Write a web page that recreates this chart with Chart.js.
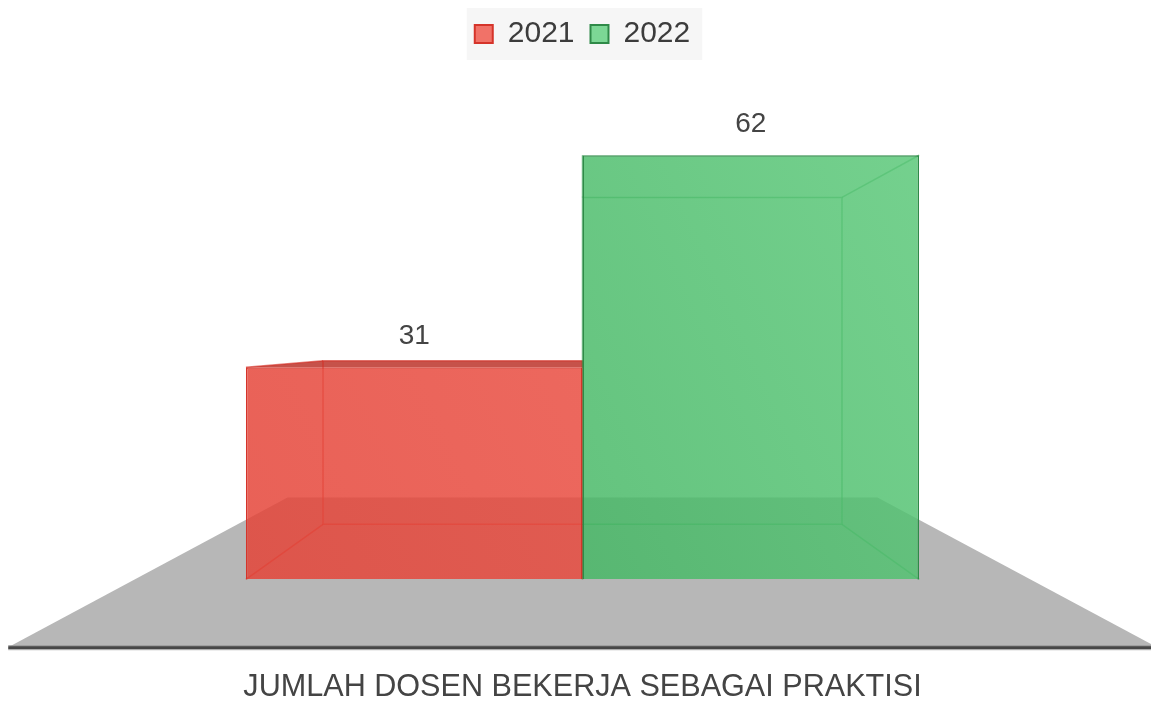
<!DOCTYPE html>
<html>
<head>
<meta charset="utf-8">
<script src="https://cdn.jsdelivr.net/npm/chart.js@4.4.1/dist/chart.umd.min.js"></script>
<style>
    html, body { margin: 0; padding: 0; background: #ffffff; }
    #wadah { width: 1151px; height: 703px; }
</style>
</head>
<body>
<div id="wadah"><canvas id="grafikBatang"></canvas></div>
<script>
const kategori = ["JUMLAH DOSEN BEKERJA SEBAGAI PRAKTISI"];
const tahun = ["2021", "2022"];
const nilai2021 = [31];
const nilai2022 = [62];

// warna per seri (merah, hijau)
const warnaBawah = ["rgba(226, 62, 50, 0.84)", "rgba(48, 166, 80, 0.84)"];
const warnaAtas = ["rgba(240, 88, 76, 0.84)", "rgba(100, 208, 130, 0.84)"];
const warnaGaris = ["#d5342a", "#2f8a48"];
const warnaTepi = ["rgba(214, 44, 34, 0.6)", "rgba(40, 150, 70, 0.6)"];
const warnaTutup = ["rgba(188, 52, 42, 0.85)", "rgba(60, 160, 90, 0.0)"];

// geometri perspektif
const TINGGI_MATA = 240;
const S_BALOK = 0.771;
const S_LANTAI_DEPAN = 1.283;
const S_LANTAI_BELAKANG = 0.659;
const LEBAR_LANTAI = 1.33;

function isiGradien(i) {
    return function (context) {
        const area = context.chart.chartArea;
        if (!area) return warnaBawah[i];
        const g = context.chart.ctx.createLinearGradient(area.left, area.bottom, area.right, area.top);
        g.addColorStop(0, warnaBawah[i]);
        g.addColorStop(1, warnaAtas[i]);
        return g;
    };
}

const kotak3D = {
    id: "kotak3D",
    beforeDatasetsDraw(chart) {
        const ctx = chart.ctx;
        const base = chart.scales.y.getPixelForValue(0);
        const batang = [];
        chart.data.datasets.forEach((ds, i) => {
            chart.getDatasetMeta(i).data.forEach(el => {
                batang.push({ i: i, left: el.x - el.width / 2, right: el.x + el.width / 2, top: el.y });
            });
        });
        if (!batang.length) return;
        const kiri = Math.min(...batang.map(b => b.left));
        const kanan = Math.max(...batang.map(b => b.right));
        const vx = (kiri + kanan) / 2;
        const vy = base - TINGGI_MATA;
        const proj = (px, py, s) => [vx + s * (px - vx), vy + s * (py - vy)];

        function poligon(titik) {
            ctx.beginPath();
            ctx.moveTo(titik[0][0], titik[0][1]);
            for (let k = 1; k < titik.length; k++) ctx.lineTo(titik[k][0], titik[k][1]);
            ctx.closePath();
        }

        ctx.save();
        // lantai
        const setengah = (kanan - kiri) / 2 * LEBAR_LANTAI;
        const dKi = proj(vx - setengah, base, S_LANTAI_DEPAN);
        const dKa = proj(vx + setengah, base, S_LANTAI_DEPAN);
        const bKi = proj(vx - setengah, base, S_LANTAI_BELAKANG);
        const bKa = proj(vx + setengah, base, S_LANTAI_BELAKANG);
        ctx.fillStyle = "#b7b7b7";
        poligon([dKi, dKa, bKa, bKi]);
        ctx.fill();
        ctx.fillStyle = "#9a9a9a";
        ctx.fillRect(dKi[0], dKi[1] - 2, dKa[0] - dKi[0], 1);
        ctx.fillStyle = "#474747";
        ctx.fillRect(dKi[0], dKi[1] - 1, dKa[0] - dKi[0], 3);
        ctx.fillStyle = "#a5a5a5";
        ctx.fillRect(dKi[0], dKi[1] + 2, dKa[0] - dKi[0], 1);

        // sisi belakang balok
        batang.forEach(b => {
            const f = [[b.left, b.top], [b.right, b.top], [b.right, base], [b.left, base]];
            const k = f.map(p => proj(p[0], p[1], S_BALOK));
            if (b.top > vy) {
                ctx.fillStyle = warnaTutup[b.i];
                poligon([f[0], f[1], k[1], k[0]]);
                ctx.fill();
            }
            ctx.strokeStyle = warnaTepi[b.i];
            ctx.lineWidth = 1.5;
            poligon(k);
            ctx.stroke();
            for (let j = 0; j < 4; j++) {
                ctx.beginPath();
                ctx.moveTo(f[j][0], f[j][1]);
                ctx.lineTo(k[j][0], k[j][1]);
                ctx.stroke();
            }
        });
        ctx.restore();
    }
};

const labelNilai = {
    id: "labelNilai",
    afterDatasetsDraw(chart) {
        const ctx = chart.ctx;
        ctx.save();
        ctx.font = "28px 'Liberation Sans', Arial, sans-serif";
        ctx.fillStyle = "#444444";
        ctx.textAlign = "center";
        ctx.textBaseline = "middle";
        chart.data.datasets.forEach((ds, i) => {
            chart.getDatasetMeta(i).data.forEach((el, j) => {
                ctx.fillText(ds.data[j], el.x, el.y - 31);
            });
        });
        ctx.restore();
    }
};

const latarLegenda = {
    id: "latarLegenda",
    beforeDraw(chart) {
        const kotak = chart.legend && chart.legend.legendHitBoxes;
        if (!kotak || !kotak.length) return;
        const ctx = chart.ctx;
        const kiri = Math.min(...kotak.map(b => b.left)) - 8;
        const kanan = Math.max(...kotak.map(b => b.left + b.width)) + 12;
        const atas = Math.min(...kotak.map(b => b.top));
        const bawah = Math.max(...kotak.map(b => b.top + b.height));
        ctx.save();
        ctx.fillStyle = "#f6f6f6";
        ctx.fillRect(kiri, atas - 11, kanan - kiri, (bawah - atas) + 22);
        ctx.restore();
    }
};

Chart.defaults.font.family = "'Liberation Sans', Arial, sans-serif";

new Chart(document.getElementById("grafikBatang").getContext("2d"), {
    type: "bar",
    data: {
        labels: kategori,
        datasets: [
            {
                label: tahun[0],
                data: nilai2021,
                backgroundColor: isiGradien(0),
                borderColor: warnaGaris[0],
                borderWidth: 1.5
            },
            {
                label: tahun[1],
                data: nilai2022,
                backgroundColor: isiGradien(1),
                borderColor: warnaGaris[1],
                borderWidth: 1.5
            }
        ]
    },
    options: {
        responsive: true,
        maintainAspectRatio: false,
        animation: false,
        categoryPercentage: 0.592,
        barPercentage: 1,
        layout: { padding: { left: 14, right: 0, top: 3, bottom: 0 } },
        plugins: {
            tooltip: { enabled: false },
            legend: {
                position: "top",
                labels: {
                    boxWidth: 18,
                    boxHeight: 18,
                    padding: 16,
                    color: "#3c3c3c",
                    font: { size: 30 },
                    generateLabels: chart => chart.data.datasets.map((ds, i) => ({
                        text: ds.label,
                        fillStyle: warnaAtas[i],
                        strokeStyle: warnaGaris[i],
                        lineWidth: 2,
                        hidden: !chart.isDatasetVisible(i),
                        datasetIndex: i,
                        fontColor: "#3c3c3c"
                    }))
                }
            }
        },
        scales: {
            x: {
                grid: { display: false },
                border: { display: false },
                ticks: { display: false },
                title: {
                    display: true,
                    text: kategori[0],
                    color: "#444444",
                    font: { size: 30.6 },
                    padding: { top: 82, bottom: -3 }
                }
            },
            y: {
                display: false,
                min: 0,
                max: 76.07
            }
        }
    },
    plugins: [kotak3D, labelNilai, latarLegenda]
});
</script>
</body>
</html>
